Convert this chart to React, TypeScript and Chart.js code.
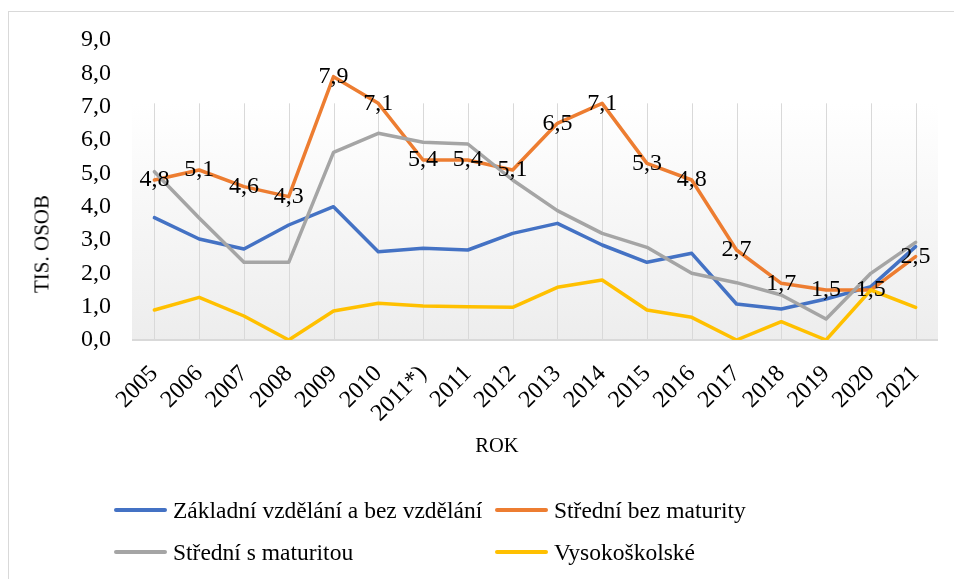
import React, { useEffect, useRef } from "react";
import { Chart, registerables } from "chart.js";

Chart.register(...registerables);

const categories = [
  "2005", "2006", "2007", "2008", "2009", "2010", "2011*)", "2011", "2012",
  "2013", "2014", "2015", "2016", "2017", "2018", "2019", "2020", "2021",
];

const zakladni = [3.67, 3.03, 2.73, 3.45, 4.0, 2.65, 2.75, 2.7, 3.2, 3.5, 2.85, 2.33, 2.6, 1.08, 0.93, 1.23, 1.6, 2.8];
const stredniBez = [4.8, 5.1, 4.6, 4.3, 7.9, 7.1, 5.4, 5.4, 5.1, 6.5, 7.1, 5.3, 4.8, 2.7, 1.7, 1.5, 1.5, 2.5];
const stredniS = [5.05, 3.66, 2.33, 2.33, 5.63, 6.2, 5.93, 5.88, 4.8, 3.88, 3.2, 2.78, 2.0, 1.72, 1.35, 0.63, 2.0, 2.93];
const vysokoskolske = [0.9, 1.28, 0.72, 0.0, 0.87, 1.1, 1.02, 1.0, 0.98, 1.58, 1.8, 0.9, 0.68, 0.0, 0.55, 0.0, 1.5, 0.98];

const seriesNames = [
  "Základní vzdělání a bez vzdělání",
  "Střední bez maturity",
  "Střední s maturitou",
  "Vysokoškolské",
];
const seriesColors = ["#4472C4", "#ED7D31", "#A5A5A5", "#FFC000"];

const yTicks = [0, 1, 2, 3, 4, 5, 6, 7, 8, 9];
const BG_TOP_VALUE = 7.1;
const FONT = "'Liberation Serif', 'Times New Roman', serif";

const fmt = (v: number) => v.toFixed(1).replace(".", ",");

const plotBgPlugin = {
  id: "plotBg",
  beforeDatasetsDraw(chart: any) {
    const { ctx, chartArea, scales } = chart;
    const y = scales.y;
    const x = scales.x;
    const top = y.getPixelForValue(BG_TOP_VALUE);
    const bottom = chartArea.bottom;
    ctx.save();
    const g = ctx.createLinearGradient(0, top, 0, bottom);
    g.addColorStop(0, "#ffffff");
    g.addColorStop(1, "#ededed");
    ctx.fillStyle = g;
    ctx.fillRect(chartArea.left, top, chartArea.right - chartArea.left, bottom - top);
    ctx.strokeStyle = "#d9d9d9";
    ctx.lineWidth = 1;
    for (let i = 0; i < categories.length; i++) {
      const px = Math.round(x.getPixelForValue(i)) + 0.5;
      ctx.beginPath();
      ctx.moveTo(px, top);
      ctx.lineTo(px, bottom);
      ctx.stroke();
    }
    ctx.lineWidth = 2;
    ctx.beginPath();
    ctx.moveTo(chartArea.left, y.getPixelForValue(0));
    ctx.lineTo(chartArea.right, y.getPixelForValue(0));
    ctx.stroke();
    ctx.restore();
  },
};

const labelPlugin = {
  id: "orangeLabels",
  afterDatasetsDraw(chart: any) {
    const { ctx } = chart;
    const meta = chart.getDatasetMeta(1);
    ctx.save();
    ctx.font = `24px ${FONT}`;
    ctx.fillStyle = "#000";
    ctx.textAlign = "center";
    ctx.textBaseline = "middle";
    meta.data.forEach((pt: any, i: number) => {
      ctx.fillText(fmt(stredniBez[i]), pt.x, pt.y);
    });
    ctx.restore();
  },
};

export default function App() {
  const ref = useRef<HTMLCanvasElement>(null);
  useEffect(() => {
    if (!ref.current) return;
    const data = [zakladni, stredniBez, stredniS, vysokoskolske];
    const chart = new Chart(ref.current, {
      type: "line",
      data: {
        labels: categories,
        datasets: data.map((d, i) => ({
          label: seriesNames[i],
          data: d,
          borderColor: seriesColors[i],
          backgroundColor: seriesColors[i],
          borderWidth: 3.5,
          pointRadius: 0,
          borderJoinStyle: "round" as const,
          borderCapStyle: "round" as const,
          tension: 0,
          order: 4 - i,
        })),
      },
      options: {
        responsive: false,
        animation: false,
        layout: { padding: { left: 0, right: 16, top: 40, bottom: 0 } },
        plugins: {
          legend: { display: false },
          tooltip: { enabled: false },
        },
        scales: {
          x: {
            offset: true,
            grid: { display: false },
            border: { display: false },
            ticks: {
              color: "#000",
              font: { family: FONT, size: 24 },
              minRotation: 45,
              maxRotation: 45,
              padding: 12,
              autoSkip: false,
            },
            afterFit: (s: any) => {
              s.height = 239;
            },
          },
          y: {
            min: 0,
            max: 9,
            grid: { display: false, drawTicks: false },
            border: { display: false },
            afterBuildTicks: (s: any) => {
              s.ticks = yTicks.map((v) => ({ value: v }));
            },
            ticks: {
              color: "#000",
              font: { family: FONT, size: 24 },
              padding: 21,
              callback: (v: any) => fmt(Number(v)),
            },
            afterFit: (s: any) => {
              s.width = 132;
            },
          },
        },
      },
      plugins: [plotBgPlugin, labelPlugin],
    });
    return () => chart.destroy();
  }, []);

  const legendItem = (i: number, left: number, top: number) => (
    <div
      key={i}
      style={{ position: "absolute", left, top: top - 15, height: 30, display: "flex", alignItems: "center", whiteSpace: "nowrap" }}
    >
      <div style={{ width: 53, height: 4, borderRadius: 2, background: seriesColors[i], marginRight: 6 }} />
      <span style={{ fontFamily: FONT, fontSize: 23.5, color: "#000", lineHeight: "30px" }}>{seriesNames[i]}</span>
    </div>
  );

  return (
    <div style={{ position: "absolute", left: 0, top: 0, width: 954, height: 579, overflow: "hidden", background: "#fff" }}>
      <div style={{ position: "absolute", left: 8, top: 11, width: 2000, height: 2000, border: "1px solid #d9d9d9" }} />
      <canvas ref={ref} width={954} height={579} style={{ position: "absolute", left: 0, top: 0 }} />
      <div
        style={{
          position: "absolute", left: 42, top: 244, transform: "translate(-50%, -50%) rotate(-90deg)",
          fontFamily: FONT, fontSize: 21, whiteSpace: "nowrap", color: "#000",
        }}
      >
        TIS. OSOB
      </div>
      <div
        style={{
          position: "absolute", left: 497, top: 445, transform: "translate(-50%, -50%)",
          fontFamily: FONT, fontSize: 20.5, whiteSpace: "nowrap", color: "#000",
        }}
      >
        ROK
      </div>
      {legendItem(0, 114, 510)}
      {legendItem(1, 495, 510)}
      {legendItem(2, 114, 552)}
      {legendItem(3, 495, 552)}
    </div>
  );
}
